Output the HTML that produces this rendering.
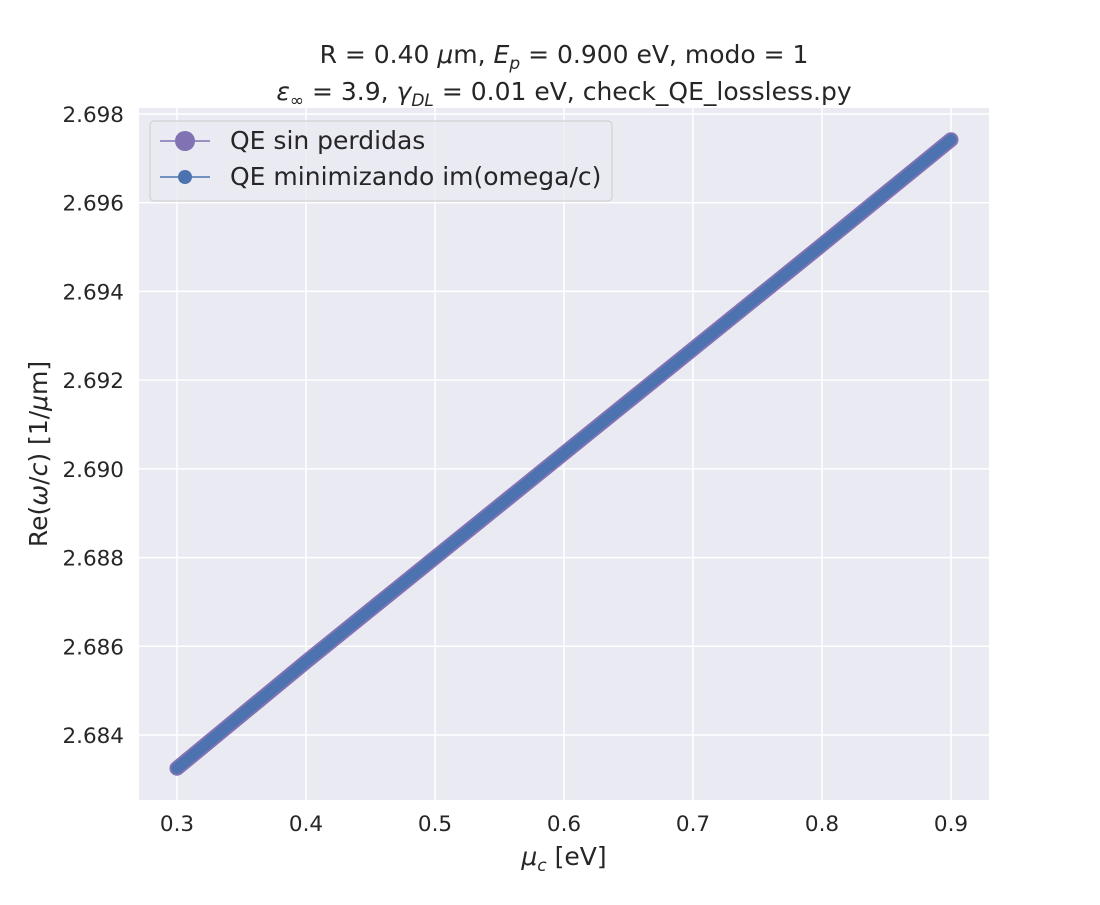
<!DOCTYPE html>
<html><head><meta charset="utf-8"><style>
body{margin:0;background:#fff;}
svg text{font-family:"DejaVu Sans","Liberation Sans",sans-serif;fill:#262626;}
</style></head><body>
<svg id="chart" width="1100" height="900" xmlns="http://www.w3.org/2000/svg">
<rect x="139" y="108" width="850" height="692" fill="#eaeaf2"/>
<g id="grid"></g>
<g id="ticks"></g>
<g id="series"></g>
<text x="564" y="63" font-size="25" text-anchor="middle">R = 0.40 <tspan font-style="italic">μ</tspan>m, <tspan font-style="italic">E</tspan><tspan font-style="italic" font-size="17" dy="6">p</tspan><tspan dy="-6"> = 0.900 eV, modo = 1</tspan></text>
<text x="564" y="100" font-size="25" text-anchor="middle"><tspan font-style="italic">ε</tspan><tspan font-size="17" dy="6">∞</tspan><tspan dy="-6"> = 3.9, </tspan><tspan font-style="italic">γ</tspan><tspan font-style="italic" font-size="17" dy="6">DL</tspan><tspan dy="-6"> = 0.01 eV, check_QE_lossless.py</tspan></text>
<text x="564" y="865" font-size="25" text-anchor="middle"><tspan font-style="italic">μ</tspan><tspan font-style="italic" font-size="17" dy="6">c</tspan><tspan dy="-6"> [eV]</tspan></text>
<text transform="translate(47,454) rotate(-90)" font-size="25" text-anchor="middle">Re(<tspan font-style="italic">ω</tspan>/<tspan font-style="italic">c</tspan>) [1/<tspan font-style="italic">μ</tspan>m]</text>
<g>
<rect x="150" y="121" width="462" height="80" rx="4" fill="#eaeaf2" fill-opacity="0.8" stroke="#cccccc"/>
<line x1="160" y1="141" x2="210" y2="141" stroke="#8172b3" stroke-width="1.5"/>
<circle cx="185" cy="141" r="10" fill="#8172b3"/>
<text x="230" y="149" font-size="25">QE sin perdidas</text>
<line x1="160" y1="177" x2="210" y2="177" stroke="#4c72b0" stroke-width="1.5"/>
<circle cx="185" cy="177" r="7" fill="#4c72b0"/>
<text x="230" y="185" font-size="25">QE minimizando im(omega/c)</text>
</g>
</svg>
<script>
const xVals=[0.3,0.4,0.5,0.6,0.7,0.8,0.9];
const yLossless=[2.68325,2.68565,2.68800,2.69035,2.69270,2.69505,2.69742];
const yMinimized=[2.68325,2.68565,2.68800,2.69035,2.69270,2.69505,2.69742];
const xTicks=[0.3,0.4,0.5,0.6,0.7,0.8,0.9];
const yTicks=[2.684,2.686,2.688,2.690,2.692,2.694,2.696,2.698];
const NS="http://www.w3.org/2000/svg";
const X=v=>177+(v-0.3)*(951-177)/0.6;
const Y=v=>735-(v-2.684)*(735-114)/0.014;
const grid=document.getElementById('grid'),ticks=document.getElementById('ticks'),ser=document.getElementById('series');
function mk(t,a,p){const e=document.createElementNS(NS,t);for(const k in a)e.setAttribute(k,a[k]);p.appendChild(e);return e;}
xTicks.forEach(t=>{
 const l=mk('line',{x1:X(t),x2:X(t),y1:108,y2:800,stroke:'#fff','stroke-width':1.5},grid);
 
 
 const tx=mk('text',{x:X(t),y:831,'font-size':21.5,'text-anchor':'middle'},ticks);tx.textContent=t.toFixed(1);
 
 
});
yTicks.forEach(t=>{
 const l=mk('line',{x1:139,x2:989,y1:Y(t),y2:Y(t),stroke:'#fff','stroke-width':1.5},grid);
 
 
 const tx=mk('text',{x:124,y:Y(t)+8,'font-size':21.5,'text-anchor':'end'},ticks);tx.textContent=t.toFixed(3);
 
 
});
function series(ys,color,w,name){
 const pts=xVals.map((x,i)=>X(x)+','+Y(ys[i])).join(' ');
 const p=mk('polyline',{points:pts,fill:'none',stroke:color,'stroke-width':w,'stroke-linecap':'round','stroke-linejoin':'round'},ser);
 
 
}
series(yLossless,'#8172b3',15,'series-lossless');
series(yMinimized,'#4c72b0',11,'series-minimized');
</script>
</body></html>
